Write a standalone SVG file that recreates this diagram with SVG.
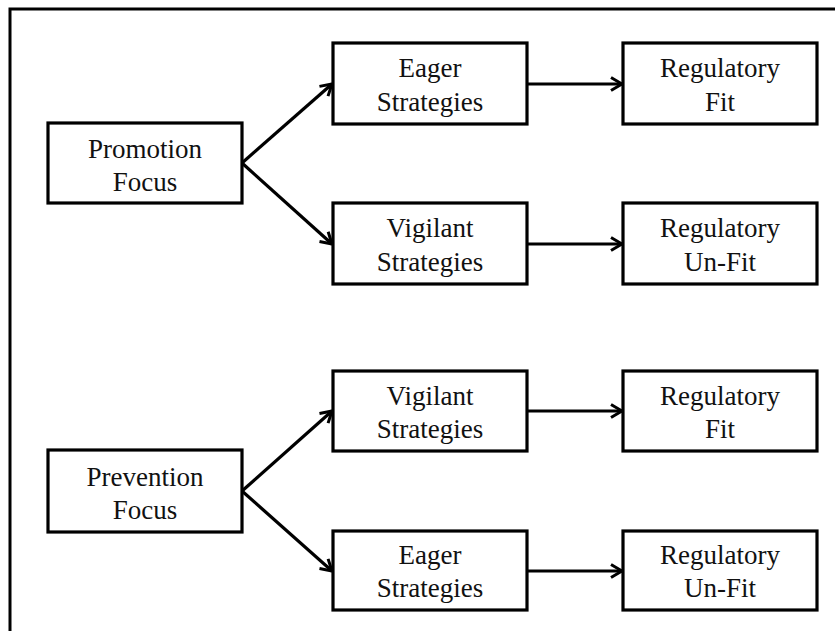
<svg xmlns="http://www.w3.org/2000/svg" width="835" height="631" viewBox="0 0 835 631">
<defs>
<style>
.box{fill:#fff;stroke:#000;stroke-width:3.2}
.lbl{font-family:"Liberation Serif","DejaVu Serif",serif;font-size:27px;fill:#111;text-anchor:middle}
.con{fill:none;stroke:#000;stroke-width:3.2}
</style>
<marker id="arr" viewBox="0 0 16 16" refX="14" refY="8" markerWidth="16" markerHeight="16" markerUnits="userSpaceOnUse" orient="auto">
<path d="M3,1.5 L14,8 L3,14.5" fill="none" stroke="#000" stroke-width="3" stroke-linejoin="miter"/>
</marker>
</defs>
<rect width="835" height="631" fill="#fff"/>
<g id="frame">
<path d="M10,631 L10,9 L835,9" fill="none" stroke="#000" stroke-width="3"/>
</g>
<g id="connectors">
<line class="con" x1="242" y1="163" x2="332" y2="84" marker-end="url(#arr)"/>
<line class="con" x1="242" y1="163" x2="332" y2="244" marker-end="url(#arr)"/>
<line class="con" x1="527" y1="84" x2="622" y2="84" marker-end="url(#arr)"/>
<line class="con" x1="527" y1="244" x2="622" y2="244" marker-end="url(#arr)"/>
<line class="con" x1="242" y1="491" x2="332" y2="411" marker-end="url(#arr)"/>
<line class="con" x1="242" y1="491" x2="332" y2="571" marker-end="url(#arr)"/>
<line class="con" x1="527" y1="411" x2="622" y2="411" marker-end="url(#arr)"/>
<line class="con" x1="527" y1="571" x2="622" y2="571" marker-end="url(#arr)"/>
</g>
<g id="promotion">
<rect class="box" x="48" y="123" width="194" height="80"/>
<text class="lbl" x="145" y="158">Promotion</text>
<text class="lbl" x="145" y="191">Focus</text>
</g>
<g id="eager1">
<rect class="box" x="333" y="43" width="194" height="81"/>
<text class="lbl" x="430" y="77">Eager</text>
<text class="lbl" x="430" y="111">Strategies</text>
</g>
<g id="vigilant1">
<rect class="box" x="333" y="203" width="194" height="81"/>
<text class="lbl" x="430" y="237">Vigilant</text>
<text class="lbl" x="430" y="271">Strategies</text>
</g>
<g id="fit1">
<rect class="box" x="623" y="43" width="194" height="81"/>
<text class="lbl" x="720" y="77">Regulatory</text>
<text class="lbl" x="720" y="111">Fit</text>
</g>
<g id="unfit1">
<rect class="box" x="623" y="203" width="194" height="81"/>
<text class="lbl" x="720" y="237">Regulatory</text>
<text class="lbl" x="720" y="271">Un-Fit</text>
</g>
<g id="prevention">
<rect class="box" x="48" y="450" width="194" height="82"/>
<text class="lbl" x="145" y="486">Prevention</text>
<text class="lbl" x="145" y="519">Focus</text>
</g>
<g id="vigilant2">
<rect class="box" x="333" y="371" width="194" height="80"/>
<text class="lbl" x="430" y="405">Vigilant</text>
<text class="lbl" x="430" y="438">Strategies</text>
</g>
<g id="eager2">
<rect class="box" x="333" y="531" width="194" height="79"/>
<text class="lbl" x="430" y="564">Eager</text>
<text class="lbl" x="430" y="597">Strategies</text>
</g>
<g id="fit2">
<rect class="box" x="623" y="371" width="194" height="80"/>
<text class="lbl" x="720" y="405">Regulatory</text>
<text class="lbl" x="720" y="438">Fit</text>
</g>
<g id="unfit2">
<rect class="box" x="623" y="531" width="194" height="79"/>
<text class="lbl" x="720" y="564">Regulatory</text>
<text class="lbl" x="720" y="597">Un-Fit</text>
</g>
</svg>
